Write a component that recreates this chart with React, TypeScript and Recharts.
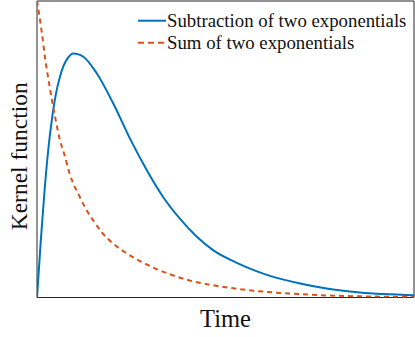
import React from "react";
import { LineChart, Line, XAxis, YAxis, ReferenceArea } from "recharts";

// Time samples and kernel values
const subTime = [0, 0.1, 0.2, 0.3, 0.4, 0.5, 0.6, 0.7, 0.82, 0.96, 1.1, 1.23, 1.58, 2.02, 2.47, 2.91, 3.34, 3.79, 4.24, 4.68, 5.3, 5.8, 6.18, 6.98, 7.68, 8.57, 10];
const subValues = [0, 0.19, 0.36, 0.5, 0.605, 0.685, 0.74, 0.78, 0.808, 0.823, 0.82, 0.812, 0.757, 0.655, 0.535, 0.43, 0.34, 0.266, 0.205, 0.159, 0.117, 0.09, 0.073, 0.047, 0.03, 0.017, 0.008];

const sumTime = [0, 0.08, 0.125, 0.21, 0.35, 0.48, 0.61, 0.72, 0.86, 0.96, 1.12, 1.3, 1.49, 1.72, 2.02, 2.38, 2.73, 3.1, 3.6, 4.15, 4.68, 5.21, 5.74, 6.27, 6.8, 7.68, 8.57, 10];
const sumValues = [1.0, 0.936, 0.896, 0.812, 0.7, 0.609, 0.53, 0.485, 0.42, 0.385, 0.343, 0.298, 0.26, 0.22, 0.182, 0.149, 0.123, 0.1, 0.075, 0.054, 0.041, 0.031, 0.023, 0.017, 0.013, 0.007, 0.004, 0.0015];

const seriesNames = ["Subtraction of two exponentials", "Sum of two exponentials"];
const xLabel = "Time";
const yLabel = "Kernel function";

const subData = subTime.map((t, i) => ({ t, v: subValues[i] }));
const sumData = sumTime.map((t, i) => ({ t, v: sumValues[i] }));

const BLUE = "#0072BD";
const ORANGE = "#D95319";
const FONT = "'Liberation Serif', 'Times New Roman', serif";
const textStyle = { fontFamily: FONT };

const LegendBox = () => (
  <svg width={277} height={56} style={{ position: "absolute", left: 138, top: 6, display: "block" }}>
    <line x1={0} y1={14.7} x2={28} y2={14.7} stroke={BLUE} strokeWidth={2} />
    <text x={29} y={20.5} style={textStyle} fontSize={18.8} fill="#111">{seriesNames[0]}</text>
    <line x1={0} y1={36.7} x2={28} y2={36.7} stroke={ORANGE} strokeWidth={2} strokeDasharray="6 4" />
    <text x={29} y={42.5} style={textStyle} fontSize={18.8} fill="#111">{seriesNames[1]}</text>
  </svg>
);

export default function App() {
  return (
    <div style={{ position: "absolute", left: 0, top: 0, width: 415, height: 337, background: "#fff" }}>
      <LineChart width={415} height={337} margin={{ top: 1, right: 1, left: 0, bottom: 0 }}>
        <XAxis
          type="number"
          dataKey="t"
          domain={[0, 10]}
          allowDataOverflow
          tick={false}
          tickLine={false}
          axisLine={false}
          height={39.5}
          label={(props: any) => {
            const vb = props.viewBox;
            return (
              <text x={vb.x + vb.width / 2} y={vb.y + 29} textAnchor="middle" style={textStyle} fontSize={24.5} fill="#111">
                {xLabel}
              </text>
            );
          }}
        />
        <YAxis
          type="number"
          domain={[0, 1]}
          allowDataOverflow
          tick={false}
          tickLine={false}
          axisLine={false}
          width={37}
          label={(props: any) => {
            const vb = props.viewBox;
            const cx = vb.x + 27;
            const cy = vb.y + vb.height / 2 + 7;
            return (
              <text x={cx} y={cy} textAnchor="middle" style={textStyle} fontSize={23.5} fill="#111" transform={`rotate(-90, ${cx}, ${cy})`}>
                {yLabel}
              </text>
            );
          }}
        />
        <Line data={subData} dataKey="v" type="monotone" stroke={BLUE} strokeWidth={2} dot={false} isAnimationActive={false} />
        <Line data={sumData} dataKey="v" type="monotone" stroke={ORANGE} strokeWidth={2} strokeDasharray="5 4" dot={false} isAnimationActive={false} />
        <ReferenceArea x1={0} x2={10} y1={0} y2={1} fill="none" fillOpacity={0} stroke="#262626" strokeWidth={1} />
      </LineChart>
      <LegendBox />
    </div>
  );
}
